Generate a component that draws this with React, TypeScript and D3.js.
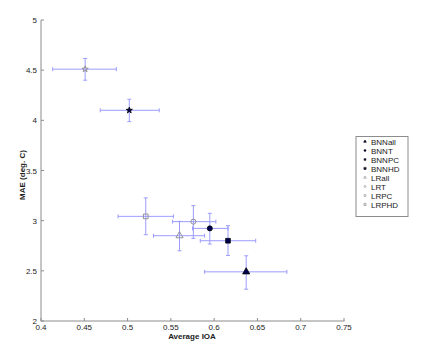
import React, { useEffect, useRef } from 'react';
import * as d3 from 'd3';

// series, in legend order
const names = ['BNNall', 'BNNT', 'BNNPC', 'BNNHD', 'LRall', 'LRT', 'LRPC', 'LRPHD'];
const ioa = [0.637, 0.595, 0.616, 0.502, 0.560, 0.576, 0.521, 0.451];
const mae = [2.49, 2.923, 2.80, 4.10, 2.85, 2.99, 3.043, 4.51];
const ioaLow = [0.589, 0.575, 0.584, 0.4685, 0.530, 0.552, 0.489, 0.4135];
const ioaHigh = [0.684, 0.616, 0.648, 0.5366, 0.589, 0.602, 0.553, 0.487];
const maeLow = [2.317, 2.767, 2.653, 3.987, 2.70, 2.823, 2.86, 4.40];
const maeHigh = [2.65, 3.073, 2.95, 4.21, 2.993, 3.15, 3.227, 4.617];

const xTicks = [0.4, 0.45, 0.5, 0.55, 0.6, 0.65, 0.7, 0.75];
const yTicks = [2, 2.5, 3, 3.5, 4, 4.5, 5];

const App = () => {
    const svgRef = useRef(null);

    useEffect(() => {
        const svg = d3.select(svgRef.current);
        svg.selectAll('*').remove();

        const font = 'Liberation Sans, Arial, sans-serif';
        const axisColor = '#8c8c8c';
        const barColor = '#9c9cff';
        const navy = '#000050';
        const gray = '#8a8a8a';

        const x = d3.scaleLinear().domain([0.4, 0.75]).range([41, 344]);
        const y = d3.scaleLinear().domain([2, 5]).range([321, 20]);

        const shapes = [d3.symbolTriangle, d3.symbolCircle, d3.symbolSquare, d3.symbolStar,
                        d3.symbolTriangle, d3.symbolCircle, d3.symbolSquare, d3.symbolStar];
        const sizes = [22, 20, 22, 12, 22, 20, 22, 12];
        const filled = names.map(n => n.startsWith('BNN'));

        // axes (left + bottom only)
        const axes = svg.append('g').attr('stroke', axisColor).attr('stroke-width', 1);
        axes.append('line').attr('x1', x(0.4)).attr('x2', x(0.4)).attr('y1', y(5)).attr('y2', y(2) + 0.5);
        axes.append('line').attr('x1', x(0.4)).attr('x2', x(0.75) + 0.5).attr('y1', y(2)).attr('y2', y(2));

        xTicks.forEach(t => {
            axes.append('line').attr('x1', x(t)).attr('x2', x(t)).attr('y1', y(2)).attr('y2', y(2) - 3);
            svg.append('text').attr('x', x(t)).attr('y', y(2) + 9)
                .attr('text-anchor', 'middle').attr('font-family', font).attr('font-size', 8)
                .attr('fill', '#222').text(String(t));
        });
        yTicks.forEach(t => {
            axes.append('line').attr('x1', x(0.4)).attr('x2', x(0.4) + 3).attr('y1', y(t)).attr('y2', y(t));
            svg.append('text').attr('x', x(0.4) - 4).attr('y', y(t) + 3)
                .attr('text-anchor', 'end').attr('font-family', font).attr('font-size', 8)
                .attr('fill', '#222').text(String(t));
        });

        svg.append('text').attr('x', 192).attr('y', 339)
            .attr('text-anchor', 'middle').attr('font-family', font).attr('font-size', 8)
            .attr('font-weight', 'bold').attr('fill', '#222').text('Average IOA');
        svg.append('text').attr('transform', 'translate(25,175) rotate(-90)')
            .attr('text-anchor', 'middle').attr('font-family', font).attr('font-size', 8)
            .attr('font-weight', 'bold').attr('fill', '#222').text('MAE (deg. C)');

        // error bars
        const bars = svg.append('g').attr('stroke', barColor).attr('stroke-width', 1).attr('fill', 'none');
        const cap = 2;
        names.forEach((n, i) => {
            const cx = x(ioa[i]), cy = y(mae[i]);
            bars.append('line').attr('x1', x(ioaLow[i])).attr('x2', x(ioaHigh[i])).attr('y1', cy).attr('y2', cy);
            bars.append('line').attr('x1', cx).attr('x2', cx).attr('y1', y(maeLow[i])).attr('y2', y(maeHigh[i]));
            [ioaLow[i], ioaHigh[i]].forEach(v => {
                bars.append('line').attr('x1', x(v)).attr('x2', x(v)).attr('y1', cy - cap).attr('y2', cy + cap);
            });
            [maeLow[i], maeHigh[i]].forEach(v => {
                bars.append('line').attr('x1', cx - cap).attr('x2', cx + cap).attr('y1', y(v)).attr('y2', y(v));
            });
        });

        // markers
        names.forEach((n, i) => {
            svg.append('path')
                .attr('d', d3.symbol().type(shapes[i]).size(sizes[i])())
                .attr('transform', `translate(${x(ioa[i])},${y(mae[i])})`)
                .attr('fill', filled[i] ? navy : 'none')
                .attr('stroke', filled[i] ? '#000' : gray)
                .attr('stroke-width', filled[i] ? 0.8 : 0.9);
        });

        // legend
        const legend = svg.append('g');
        legend.append('rect').attr('x', 356).attr('y', 136.5).attr('width', 52).attr('height', 80)
            .attr('fill', '#fff').attr('stroke', axisColor).attr('stroke-width', 1);
        names.forEach((n, i) => {
            const ly = 141.5 + i * 9;
            legend.append('path')
                .attr('d', d3.symbol().type(shapes[i]).size(3)())
                .attr('transform', `translate(365,${ly})`)
                .attr('fill', filled[i] ? navy : 'none')
                .attr('stroke', filled[i] ? '#000' : gray)
                .attr('stroke-width', 0.6);
            legend.append('text').attr('x', 371).attr('y', ly + 3)
                .attr('font-family', font).attr('font-size', 8).attr('fill', '#222').text(n);
        });
    }, []);

    return (
        <svg ref={svgRef} width={427} height={358}
            style={{ position: 'absolute', left: 0, top: 0, background: '#fff' }}></svg>
    );
};

export default App;
